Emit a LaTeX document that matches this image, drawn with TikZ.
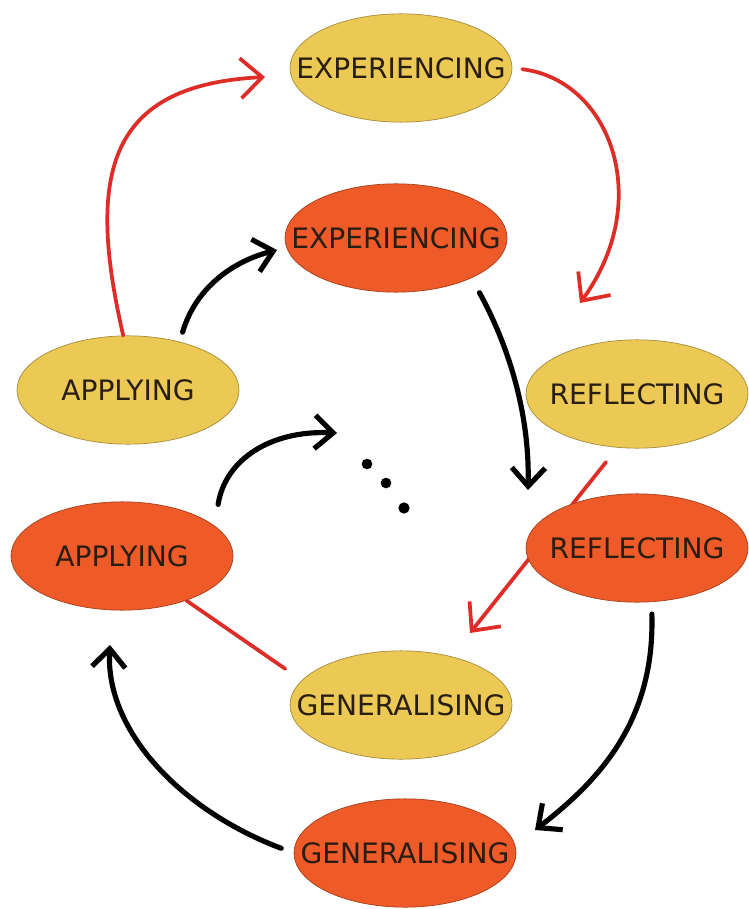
\documentclass[tikz,border=0pt]{standalone}
\usepackage{fontspec}
\setmainfont{DejaVu Sans}
\usetikzlibrary{shapes.geometric}
\usetikzlibrary{arrows.meta}
\usetikzlibrary{backgrounds}
\definecolor{cyellow}{RGB}{236,200,84}
\definecolor{corange}{RGB}{238,90,40}
\definecolor{cred}{RGB}{222,44,38}
\definecolor{ctext}{RGB}{40,30,20}
\newcommand{\stagelbl}[1]{\makebox[0pt]{#1}}

\begin{document}
\begin{tikzpicture}[x=0.03cm,y=-0.03cm,
    stage/.style={ellipse,inner sep=0pt,minimum width=6.66cm,minimum height=3.25cm,
        font=\fontsize{24}{26}\selectfont,text=ctext,line width=0.6pt},
    yel/.style={stage,fill=cyellow,draw=cyellow!70!black},
    ora/.style={stage,fill=corange,draw=corange!70!black},
    redline/.style={cred,line width=3.2pt,line cap=round},
    redarr/.style={redline,-{Straight Barb[length=6.5mm,width=12mm]}},
    blkarr/.style={black,line width=4.4pt,line cap=round,-{Straight Barb[length=5.5mm,width=10mm]}}]
    \useasboundingbox (0,0) rectangle (748,909);

    % first round
    \node[yel] (expy) at (401,68) {\stagelbl{EXPERIENCING}};
    \node[yel] (refy) at (637,394) {\stagelbl{REFLECTING}};
    \node[yel] (geny) at (401,705) {\stagelbl{GENERALISING}};
    \node[yel] (appy) at (128,390) {\stagelbl{APPLYING}};
    % second round
    \node[ora] (expo) at (396,238) {\stagelbl{EXPERIENCING}};
    \node[ora] (refo) at (637,548) {\stagelbl{REFLECTING}};
    \node[ora] (geno) at (405,853) {\stagelbl{GENERALISING}};
    \node[ora] (appo) at (122,556) {\stagelbl{APPLYING}};

    % arrow tips
    \coordinate (t1) at (265,77);
    \coordinate (t2) at (580,303);
    \coordinate (t3) at (470,633);
    \coordinate (t4) at (277,250);
    \coordinate (t5) at (528,490);
    \coordinate (t6) at (337,433);
    \coordinate (t7) at (535,830);
    \coordinate (t8) at (110,645);

    \draw[redarr] (appy.95) .. controls (85,170) and (110,85) .. (t1);
    \draw[redarr,shorten <=0.3cm] (expy.east) .. controls (610,80) and (655,200) .. (t2);
    \begin{scope}[on background layer]
        \draw[redarr,shorten <=0.55cm] (refy.250) -- (t3);
        \draw[redline,shorten <=0.6cm] (geny.166) -- (appo);
    \end{scope}

    \draw[blkarr,shorten <=0.3cm] (appy.43) .. controls (195,290) and (230,262) .. (t4);
    \draw[blkarr,shorten <=0.5cm] (expo.-28) .. controls (500,330) and (530,400) .. (t5);
    \draw[blkarr,shorten <=0.65cm] (appo.18) .. controls (225,460) and (270,430) .. (t6);
    \draw[blkarr,shorten <=0.36cm] (refo.-75) .. controls (655,720) and (600,780) .. (t7);
    \draw[blkarr,shorten <=0.4cm] (geno.west) .. controls (180,810) and (105,730) .. (t8);

    % dots
    \fill (367,464) circle (0.16cm);
    \fill (386,483) circle (0.16cm);
    \fill (404,508) circle (0.17cm);
\end{tikzpicture}
\end{document}
